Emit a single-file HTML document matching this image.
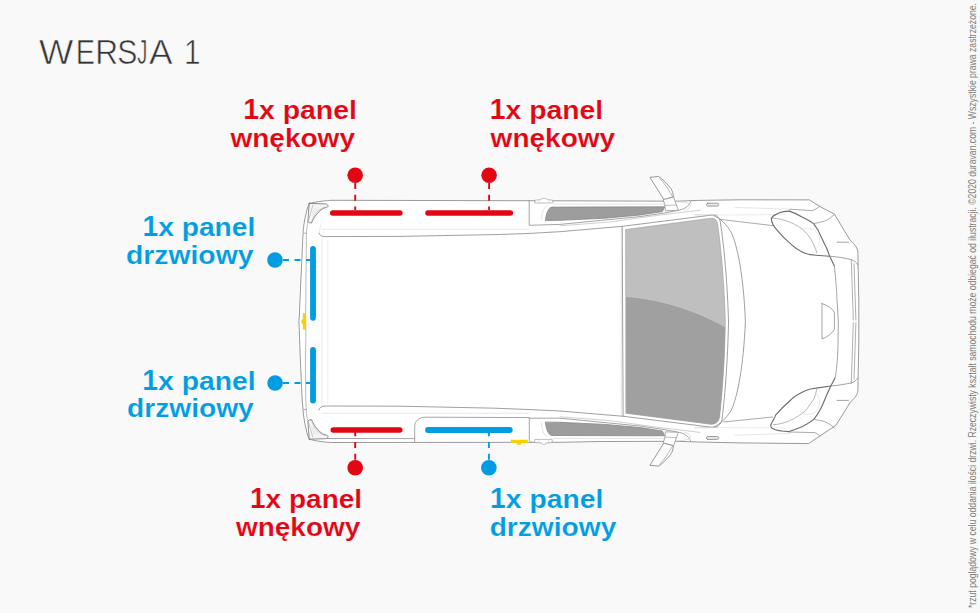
<!DOCTYPE html>
<html><head><meta charset="utf-8">
<style>
html,body{margin:0;padding:0;}
body{width:980px;height:613px;overflow:hidden;background:#f9f9f9;font-family:"Liberation Sans",sans-serif;}
svg{position:absolute;left:0;top:0;}
.r{fill:#e30613;font-weight:bold;font-size:28px;stroke:#f9f9f9;stroke-width:0.15px;}
.b{fill:#009de2;font-weight:bold;font-size:28px;stroke:#f9f9f9;stroke-width:0.15px;}
</style></head><body>
<svg width="980" height="613" viewBox="0 0 980 613" font-family="Liberation Sans, sans-serif">
<!-- VAN -->
<g id="van" fill="none" stroke-linejoin="round" stroke-linecap="round">
<path d="M309.3,203.4 C313,202.5 316.7,201.9 322,201.2 C326,200.7 329,200.4 332,200.3 L560,200.8 L677,201.2 L698.6,200.4 L740,199.8 L809.5,199.9 L819.4,206.3 L834.5,214.2 L845,231.8 L850,240 C853,243 855,245 855.9,246.5 C857.3,249 857.9,251 857.9,253 L858.1,264.8 L858.8,300 L858.8,342.6 L858.1,377.8 L857.9,389.6 C857.9,391.6 857.3,393.6 855.9,396.1 C855,397.6 853,399.6 850,402.6 L845,410.8 L835.8,425.4 L819.4,436.3 L808.5,443.6 L740,442.9 L698.6,442 L677,441.3 L600,441.5 L560,442.3 L332,442.5 C329,442.4 326,442.2 322,441.7 C316.7,440.9 313,440.2 309.3,439.2 C308.3,437 307.5,435 306.9,432.6 C306.2,429.5 305.5,426.5 304.9,423.8 C304.3,420.5 303.8,417 303.4,414 C303,409 302.6,405 302.2,400 C301.2,380 300.4,362 299.9,348 C299.6,338 299.2,330 299.2,326 C298.9,324 298.8,322 298.9,320 C299,318 299.3,316 299.5,314 C299.7,305 300,300 300.2,295 C300.9,280 301.8,260 302.6,243 C302.9,236 303.1,232 303.4,228.6 C303.8,225.5 304.3,222 304.9,218.8 C305.5,216 306.2,213 306.9,210 C307.5,207.6 308.3,205.5 309.3,203.4 Z" fill="#ffffff" stroke="#959595" stroke-width="0.95"/>
<path d="M307.9,221.6 C307.2,226 306.6,229 306.4,233 L306.2,260 L305.8,300 L305.8,340 L305.4,365 L305.8,400 L306.4,412 L307.3,418.9 L308.2,421" stroke="#ababab" stroke-width="0.8"/>
<path d="M303.8,233.2 L306.3,233.2" stroke="#959595" stroke-width="0.7"/>
<path d="M303.8,409.4 L306.3,409.4" stroke="#959595" stroke-width="0.7"/>
<path d="M322,238 L322,405" stroke="#e4e4e4" stroke-width="0.8"/>
<path d="M327.8,240 L327.8,403" stroke="#eeeeee" stroke-width="0.8"/>
<path d="M309.3,203.4 L325.5,203.9 C327.3,204.2 328.4,205.2 328,206.4 C327.4,207.4 325.8,207.8 324,208 C321,209.5 318.5,212 316.5,214.5 C314.5,217 313,219.5 311.5,223 C310,223 308.7,222.5 307.9,221.6 C308.3,215 308.6,209 309.3,203.4 Z" fill="#f6f6f6" stroke="#777777" stroke-width="0.85"/>
<path d="M309.3,439.2 L325.5,438.7 C327.3,438.4 328.4,437.4 328,436.2 C327.4,435.2 325.8,434.8 324,434.6 C321,433.1 318.5,430.6 316.5,428.1 C314.5,425.6 313,423.1 311.5,419.6 C310,419.6 308.7,420.1 307.9,421.0 C308.3,427.6 308.6,433.6 309.3,439.2 Z" fill="#f6f6f6" stroke="#777777" stroke-width="0.85"/>
<path d="M312.8,205.3 L308.6,220.5" stroke="#a8a8a8" stroke-width="0.6"/>
<path d="M312.8,437.3 L308.6,422.1" stroke="#a8a8a8" stroke-width="0.6"/>
<path d="M325.5,206.8 C321,208.5 318.5,210.5 316.7,212.2 C314.5,215 313,218 311.8,221.5" stroke="#b0b0b0" stroke-width="0.6"/>
<path d="M325.5,435.8 C321,434.1 318.5,432.1 316.7,430.4 C314.5,427.6 313,424.6 311.8,421.1" stroke="#b0b0b0" stroke-width="0.6"/>
<path d="M314,208.5 L312,216 M316,208 L313.5,214 M318.5,207.5 L315.5,212" stroke="#d8d8d8" stroke-width="0.5"/>
<path d="M314,434.1 L312,426.6 M316,434.6 L313.5,428.6 M318.5,435.1 L315.5,430.6" stroke="#d8d8d8" stroke-width="0.5"/>
<path d="M318.9,233 C319.6,235.4 321.5,236.5 325.3,236.6 L400,236.4 L495,234.6 L528,233.5 L560,231.7 L622.6,226.3" stroke="#959595" stroke-width="0.9"/>
<path d="M318.9,410 C319.6,407.4 321.5,406.1 325.3,406 L400,406.2 L495,408.2 L528,409.5 L560,411 L623.5,416.3" stroke="#959595" stroke-width="0.9"/>
<path d="M320.8,224.5 L319.3,232" stroke="#e4e4e4" stroke-width="0.8"/>
<path d="M322,229.3 L528.6,229.3" stroke="#e4e4e4" stroke-width="0.9"/>
<path d="M322,413.3 L528.6,413.3" stroke="#e4e4e4" stroke-width="0.9"/>
<path d="M529.2,200.8 L529.2,225.3 L560,224.4 L640,216.6 L662,213.4 L677,210.6 C684,209.5 688.5,207 690.7,201.6" stroke="#959595" stroke-width="0.85"/>
<path d="M414.7,442.6 L414.7,426.3 C415,421 418.5,417.5 424.8,417.2 L529.3,417.6 L529.3,440.5 C529.6,441.6 530.5,442 531.5,442.2" stroke="#959595" stroke-width="0.85"/>
<path d="M529.3,418.2 L560,418.2 L640,426 L662,429.2 L677,432 C684,433.1 688.5,435.6 690.7,441" stroke="#959595" stroke-width="0.85"/>
<path d="M327,438.5 L414.7,438.6" stroke="#959595" stroke-width="0.85"/>
<path d="M560,225.8 L610,222 L660,215 L700,210.2" stroke="#bdbdbd" stroke-width="0.7"/>
<path d="M560,416.8 L610,420.6 L660,427.6 L700,432.4" stroke="#bdbdbd" stroke-width="0.7"/>
<path d="M553.6,204.2 L664,204.2" stroke="#d8d8d8" stroke-width="0.7"/>
<path d="M553.6,438.4 L664,438.4" stroke="#d8d8d8" stroke-width="0.7"/>
<path d="M541.5,219.5 C541.8,213 543.5,208 547,205.8" stroke="#dadada" stroke-width="0.8"/>
<path d="M541.5,423.1 C541.8,429.6 543.5,434.6 547,436.8" stroke="#dadada" stroke-width="0.8"/>
<path d="M545.4,220.2 C546,215.5 547,211 549.5,208.4 C550.5,207.4 551.6,207.1 553,207.1 L664.7,206.8 L662.3,211.6 L640,215 L605,218.2 L560,220.3 Z" fill="#9d9d9d" stroke="#868686" stroke-width="0.8"/>
<path d="M545.4,422.4 C546,427.1 547,431.6 549.5,434.2 C550.5,435.2 551.6,435.5 553,435.5 L664.7,435.8 L662.3,431.0 L640,427.6 L605,424.4 L560,422.3 Z" fill="#9d9d9d" stroke="#868686" stroke-width="0.8"/>
<path d="M535.2,203 L552.8,203 L552.8,200.2 L547,199.6 C546,197.8 541.5,197.8 540.6,199.6 L535.2,200.2 Z" fill="#fff" stroke="#959595" stroke-width="0.6"/>
<path d="M535,439.4 L552.2,439.4 L552.2,442.6 L546,443 C545.2,445 542.4,445 541.8,443 L535,442.6 Z" fill="#fff" stroke="#959595" stroke-width="0.6"/>
<path d="M539,200.6 L539,203 M549,200.4 L549,203 M539,439.6 L539,442.4 M548.5,439.6 L548.5,442.4" stroke="#c4c4c4" stroke-width="0.5"/>
<path d="M622.6,226.3 L712.1,215 C716.5,214.6 719.6,217.5 720.3,222 C724,245 727.6,285 728.5,322 C727.8,360 725,395 722,419.5 C721.2,424.5 717.5,427.6 712.2,427.3 L623.5,416.3 Z" fill="#ffffff" stroke="#959595" stroke-width="0.9"/>
<path d="M625.9,229.5 L710.8,218.3 C714.8,218 717,220.5 717.6,224 C721,247 724.4,286 725.3,322 C724.8,358 722.4,392 719.6,416.6 C719,421.5 716,424.4 710.9,424.3 L626.1,413.3 Z" fill="#bfbfbf" stroke="#9a9a9a" stroke-width="0.6"/>
<path d="M626.1,296.2 C655,298.5 690,307 725.2,326.5 C724.9,357 722.4,392 719.6,416.6 C719,421.5 716,424.4 710.9,424.3 L626.1,413.3 Z" fill="#a0a0a0"/>
<path d="M626.6,296.4 C655,298.7 690,307.2 725,326.7" stroke="#cfcfcf" stroke-width="0.7"/>
<path d="M621.3,227 L621.3,417" stroke="#cfcfcf" stroke-width="0.6"/>
<path d="M713.4,215.6 C720,217.5 726.7,224.9 731,232 C737.3,244.8 743.5,275 745.4,321.3 C743.5,367 737.3,397.8 731,410.6 C726.7,417.7 720,424.6 713.4,427" stroke="#959595" stroke-width="0.9"/>
<path d="M720.1,219.4 L772.6,225.6" stroke="#959595" stroke-width="0.8"/>
<path d="M723.6,422 L772.6,417" stroke="#959595" stroke-width="0.8"/>
<path d="M717,215 L785,214.6" stroke="#e6e6e6" stroke-width="0.8"/>
<path d="M717,427.6 L785,428.0" stroke="#e6e6e6" stroke-width="0.8"/>
<path d="M695,214.8 L717,215" stroke="#c4c4c4" stroke-width="0.7"/>
<path d="M695,427.8 L717,427.6" stroke="#c4c4c4" stroke-width="0.7"/>
<path d="M735,207.4 L790,209.2" stroke="#dedede" stroke-width="0.8"/>
<path d="M735,435.2 L790,433.4" stroke="#dedede" stroke-width="0.8"/>
<path d="M789.4,211.1 C782,211.3 775,214 771.4,218 C771,223 774,227 777.7,230.8 C782,236 786,240 791.5,244.6 C795,248 798,250 802.1,252 C806,254 811,255 815.9,255.2 L829.7,256.2" stroke="#6e6e6e" stroke-width="1.15"/>
<path d="M789.4,211.1 C795,213 799,215 802.1,217 C807,219.5 811,221.5 813.8,223.9 C817,228 819.5,232 821.2,237.1 C823,241 825,245 826.5,247.7 L829.7,256.2 L834.4,266.1" stroke="#6e6e6e" stroke-width="1.15"/>
<path d="M772.4,218 C785,219 797,224 805.3,231.8 C809,236 811,239 812.7,242.4 C814.5,246 816,250 817,253" stroke="#9a9a9a" stroke-width="0.7"/>
<path d="M801,230 C806,226.5 814,228 817.5,233 C821,238 820,245 816,249" stroke="#e0e0e0" stroke-width="0.7"/>
<path d="M789.4,431.6 C782,431.4 776,430.5 772.5,428.6 C770.8,427.2 770.5,425 771.4,423.6 C773,420 775,417.5 775.6,415.1 C780,410 786,404 791.5,399.2 C796,395 800,393 805.3,390.7 C808.5,389.3 812,388.4 815.9,388.1 L830.8,386" stroke="#6e6e6e" stroke-width="1.15"/>
<path d="M789.4,431.6 C794,429.5 798,428.3 802.1,426.8 C807,424.5 811,421.5 813.8,419.4 C817,415.5 819.5,411 821.2,407.7 C823.5,403 825.5,397.5 827.6,392.9 L830.8,386 L835,378" stroke="#6e6e6e" stroke-width="1.15"/>
<path d="M773.5,424.7 C785,424.3 797,418 805.3,410.9 C809,406 811,403 813.8,399.2 C815,396 816.3,392 817,388.6" stroke="#9a9a9a" stroke-width="0.7"/>
<path d="M801,412.6 C806,416 814,414.6 817.5,409.6 C821,404.6 820,397.6 816,393.6" stroke="#e0e0e0" stroke-width="0.7"/>
<path d="M790,209.2 L811.7,210.6 C814.5,210 817.5,208.5 820.2,205.8" stroke="#959595" stroke-width="0.8"/>
<path d="M813.8,223.6 C817.5,222.8 821,222.2 824.4,221.2 C828,219.8 831.5,217.4 834.3,214.6" stroke="#959595" stroke-width="0.8"/>
<path d="M813.8,419.4 C817.5,419.9 821,420.6 824.4,421.5 C828,423 831.5,425.2 834.3,428" stroke="#959595" stroke-width="0.8"/>
<path d="M789.4,432 L814.9,432.6 C817,433.5 819,435 820.2,436.4" stroke="#959595" stroke-width="0.8"/>
<path d="M829.7,256.2 L840,257.3 L851.3,259.6 C854,260.5 856.5,262.5 858,264.8" stroke="#959595" stroke-width="0.85"/>
<path d="M830.8,386 L840,385 L851.3,383 C854,382.1 856.5,380.1 858,377.8" stroke="#959595" stroke-width="0.85"/>
<path d="M834.4,266.1 C835.8,280 836.8,292 837,300 L838.3,320 L838,345 C837.6,360 836.5,372 835,378" stroke="#959595" stroke-width="0.85"/>
<path d="M851.3,259.6 L853.3,320" stroke="#959595" stroke-width="0.75"/>
<path d="M851.3,383.0 L853.3,322.6" stroke="#959595" stroke-width="0.75"/>
<path d="M854,263.5 L855.9,320" stroke="#959595" stroke-width="0.75"/>
<path d="M854,379.1 L855.9,322.6" stroke="#959595" stroke-width="0.75"/>
<path d="M837.1,242.2 L848.5,242.2" stroke="#959595" stroke-width="0.85"/>
<path d="M837.1,400.4 L848.5,400.4" stroke="#959595" stroke-width="0.85"/>
<path d="M822,303.6 L822,339 C826.5,337.2 832,334 834.4,329.4 L834.4,312.4 C832,307.8 826.5,304.8 822,303.6 Z" stroke="#959595" stroke-width="0.85"/>
<path d="M707.8,203.2 L717.4,203.2 C719,203.2 719.4,206.1 717.4,206.1 L707.8,206.1 C706,206.1 706,203.2 707.8,203.2 Z" stroke="#777" stroke-width="0.7" fill="#e8e8e8"/>
<path d="M707.8,439.4 L717.4,439.4 C719,439.4 719.4,436.5 717.4,436.5 L707.8,436.5 C706,436.5 706,439.4 707.8,439.4 Z" stroke="#777" stroke-width="0.7" fill="#e8e8e8"/>
<path d="M650.3,177.3 L658.7,176.5 C663,179.5 667,183.5 670.8,188.4 C672.5,191 673.2,194 673.4,196.8 L664.2,199.4 Z" fill="#fdfdfd" stroke="#7d7d7d" stroke-width="0.8"/>
<path d="M650.3,465.3 L658.7,466.1 C663,463.1 667,459.1 670.8,454.2 C672.5,451.6 673.2,448.6 673.4,445.8 L664.2,443.2 Z" fill="#fdfdfd" stroke="#7d7d7d" stroke-width="0.8"/>
<path d="M659.6,178.5 C662.5,181 666,185.5 668.5,190 C670,192.5 671.5,194.5 672.6,196.4" stroke="#959595" stroke-width="0.7"/>
<path d="M659.6,464.1 C662.5,461.6 666,457.1 668.5,452.6 C670,450.1 671.5,448.1 672.6,446.2" stroke="#959595" stroke-width="0.7"/>
<path d="M663.6,199.6 L673.7,197 L676.4,205 L678.5,210.3 L665.4,210.8 L664.9,205.5 Z" fill="#fdfdfd" stroke="#959595" stroke-width="0.8"/>
<path d="M663.6,443.0 L673.7,445.6 L676.4,437.6 L678.5,432.3 L665.4,431.8 L664.9,437.1 Z" fill="#fdfdfd" stroke="#959595" stroke-width="0.8"/>
<path d="M664.9,205.5 L676.4,205" stroke="#959595" stroke-width="0.6"/>
<path d="M664.9,437.1 L676.4,437.6" stroke="#959595" stroke-width="0.6"/>
<path d="M677.4,201.8 C684,202 689,203 690.7,205 C690,208 687.5,209.8 684.8,210.3" stroke="#c8c8c8" stroke-width="0.6"/>
<path d="M677.4,440.8 C684,440.6 689,439.6 690.7,437.6 C690,434.6 687.5,432.8 684.8,432.3" stroke="#c8c8c8" stroke-width="0.6"/>
</g>

<!-- MARKERS -->
<g stroke-linecap="round" fill="none">
<!-- red bars -->
<path stroke="#e30613" stroke-width="5.6" d="M332.8,213 L399.8,213 M428,213 L510.3,213 M333.3,430 L399.8,430"/>
<!-- blue bars -->
<path stroke="#009de2" stroke-width="5.8" d="M428,430 L509.8,430 M313,249 L313,317.8 M313,349.8 L313,400.5"/>
</g>
<g stroke-width="1.9" fill="none">
<path stroke="#e30613" stroke-dasharray="6 5.8" d="M355.2,183 L355.2,210 M489.1,183 L489.1,210 M355.2,459.8 L355.2,432"/>
<path stroke="#009de2" stroke-dasharray="6 5.8" d="M488.9,459.8 L488.9,432"/>
<path stroke="#009de2" stroke-dasharray="6 5.5" d="M283,260 L310,260 M283,383 L310,383"/>
</g>
<g>
<circle cx="355.2" cy="175.2" r="7.8" fill="#e30613"/>
<circle cx="489.1" cy="175.3" r="7.8" fill="#e30613"/>
<circle cx="355.2" cy="467.8" r="7.8" fill="#e30613"/>
<circle cx="488.9" cy="467.8" r="7.8" fill="#009de2"/>
<circle cx="275" cy="260" r="7.8" fill="#009de2"/>
<circle cx="275.1" cy="383" r="7.8" fill="#009de2"/>
</g>
<!-- yellow -->
<path fill="#f8d200" d="M302.8,313.2 L306,313.2 L306,329.8 L302.8,329.8 L302.8,324.2 C301.8,323.8 301.3,323 301.3,321.6 C301.3,320.2 301.8,319.4 302.8,319 Z"/>
<path fill="#f8d200" d="M510.8,439.7 L527.8,439.7 L527.8,442.9 L521.2,442.9 L521.2,443.8 C521.2,444.4 520.6,444.7 520,444.7 L517.8,444.7 C517.2,444.7 516.6,444.4 516.6,443.8 L516.6,442.9 L510.8,442.9 Z"/>

<!-- title -->
<g font-size="34.3" fill="#363636" stroke="#f9f9f9" stroke-width="0.6"><text transform="translate(38.94,63.5) scale(1.059,1)">W</text><text transform="translate(75.84,63.5) scale(0.839,1)">E</text><text transform="translate(95.30,63.5) scale(0.923,1)">R</text><text transform="translate(117.33,63.5) scale(0.881,1)">S</text><text transform="translate(137.18,63.5) scale(0.590,1)">J</text><text transform="translate(148.93,63.5) scale(1.029,1)">A</text><text transform="translate(183.94,63.5) scale(0.866,1)">1</text></g>

<!-- labels -->
<text class="r" transform="matrix(1.0147,0,0,1.04,243.21,119.4)">1</text>
<text class="r" transform="matrix(1.0147,0,0,0.93,259.01,119.4)">x panel</text>
<text class="r" transform="matrix(1.0015,0,0,0.93,230.38,147.2)">wnękowy</text>
<text class="r" transform="matrix(1.0119,0,0,1.04,489.82,119.3)">1</text>
<text class="r" transform="matrix(1.0119,0,0,0.93,505.57,119.3)">x panel</text>
<text class="r" transform="matrix(1.0015,0,0,0.93,490.58,147.3)">wnękowy</text>
<text class="b" transform="matrix(1.0064,0,0,1.04,142.53,236.1)">1</text>
<text class="b" transform="matrix(1.0064,0,0,0.93,158.20,236.1)">x panel</text>
<text class="b" transform="matrix(1.0111,0,0,0.93,126.04,264.0)">drzwiowy</text>
<text class="b" transform="matrix(1.0119,0,0,1.04,142.32,389.6)">1</text>
<text class="b" transform="matrix(1.0119,0,0,0.93,158.07,389.6)">x panel</text>
<text class="b" transform="matrix(1.0063,0,0,0.93,127.04,417.1)">drzwiowy</text>
<text class="r" transform="matrix(1.0008,0,0,1.04,250.03,508.0)">1</text>
<text class="r" transform="matrix(1.0008,0,0,0.93,265.62,508.0)">x panel</text>
<text class="r" transform="matrix(0.9991,0,0,0.93,235.98,535.5)">wnękowy</text>
<text class="b" transform="matrix(1.0119,0,0,1.04,490.02,507.8)">1</text>
<text class="b" transform="matrix(1.0119,0,0,0.93,505.77,507.8)">x panel</text>
<text class="b" transform="matrix(1.0055,0,0,0.93,489.65,535.5)">drzwiowy</text>


<!-- vertical copyright -->
<text transform="translate(976,608) rotate(-90)" font-size="10.5" fill="#7c7c7c" textLength="605" lengthAdjust="spacingAndGlyphs">*rzut poglądowy w celu oddania ilości drzwi. Rzeczywisty kształt samochodu może odbiegać od ilustracji. ©2020 duravan.com - Wszystkie prawa zastrzeżone.</text>
</svg>
</body></html>
